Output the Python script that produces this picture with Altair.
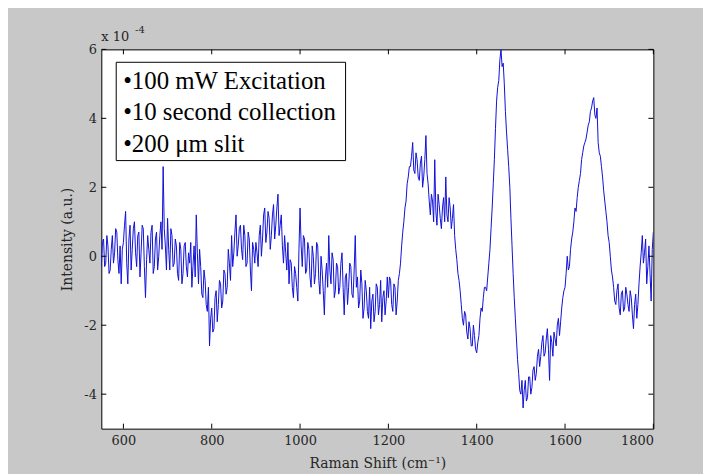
import altair as alt
import pandas as pd

# Raman shift (cm^-1) and intensity (units of 1e-4).
# Main samples every 5 cm^-1 starting at 550; mid samples every 5 cm^-1 starting at 552.5.
shift_main = [550 + 5 * i for i in range(251)]
shift_mid = [552.5 + 5 * i for i in range(250)]

intensity_rows = [
    [-0.3, 0.5, -0.2, 0.3, -0.4, 0.6, 0.1, 0.7, -0.5, -0.8],   # 550-595
    [0.4, 1.3, -0.8, 0.9, 0.2, 1.0, -0.3, 0.7, 0.1, 0.8],      # 600-645
    [-1.2, 0.6, -0.2, 0.9, -0.3, 0.7, 0.0, 1.0, 2.6, 0.3],     # 650-695
    [1.1, -0.4, 0.6, -0.2, 0.3, -0.7, 0.2, -0.5, 0.4, -0.6],   # 700-745
    [-0.2, -0.9, 0.3, 1.2, -0.8, -0.3, -1.2, -0.7, -1.6, -2.6],  # 750-795
    [-1.5, -2.1, -1.0, -1.4, -0.8, -1.3, -0.5, -0.9, -0.2, 0.6],  # 800-845
    [0.1, 1.2, 0.3, 0.9, -0.1, 0.6, -0.2, 0.5, -1.0, 0.2],     # 850-895
    [0.4, -0.3, 0.9, 0.5, 1.4, 0.7, 1.1, 0.6, 1.5, 0.9],       # 900-945
    [1.8, 0.9, 0.3, 0.6, -0.4, -0.8, -0.2, -1.2, -0.5, -1.3],  # 950-995
    [1.4, -0.3, 0.5, -0.4, 0.2, -0.9, 0.0, -0.5, 0.3, -1.1],   # 1000-1045
    [-0.4, -1.7, -0.2, 0.6, -0.8, -0.1, -1.0, -0.3, -0.9, 0.1],  # 1050-1095
    [-1.7, -0.5, -0.9, -0.3, -1.2, 0.6, -0.6, -1.3, -0.8, -1.5],  # 1100-1145
    [-1.0, -1.8, -2.1, -1.1, -1.6, -0.9, -1.4, -1.9, -1.0, -1.3],  # 1150-1195
    [-1.2, -0.7, -1.6, -0.9, -1.3, -0.5, 0.3, 1.0, 1.6, 2.3],  # 1200-1245
    [2.6, 3.3, 2.4, 2.8, 2.2, 2.9, 2.3, 3.5, 2.1, 1.2],        # 1250-1295
    [1.6, 2.8, 0.9, 1.5, 0.8, 1.7, 2.3, 1.0, 1.4, 1.1],        # 1300-1345
    [0.6, -0.1, -0.7, -1.4, -2.0, -1.7, -2.4, -2.1, -2.6, -2.3],  # 1350-1395
    [-2.8, -2.3, -1.5, -1.2, -0.9, -0.6, 0.2, 1.4, 2.8, 4.5],  # 1400-1445
    [5.1, 6.0, 5.6, 4.2, 3.1, 2.0, 0.3, -1.2, -2.4, -3.4],     # 1450-1495
    [-4.0, -4.4, -3.6, -4.1, -3.5, -3.8, -3.2, -3.4, -2.7, -2.9],  # 1500-1545
    [-2.3, -2.8, -2.1, -3.6, -2.5, -2.2, -2.6, -1.8, -1.9, -1.2],  # 1550-1595
    [-0.9, 0.0, -0.3, 0.5, 1.0, 1.3, 2.0, 2.4, 3.0, 3.3],      # 1600-1645
    [3.6, 3.9, 4.3, 4.6, 4.0, 3.3, 2.9, 2.3, 1.6, 1.0],        # 1650-1695
    [0.4, -0.4, -0.9, -1.4, -0.8, -1.7, -1.0, -1.5, -1.1, -1.6],  # 1700-1745
    [-1.2, -2.1, -1.1, -1.4, -0.3, 0.6, 0.1, -0.8, 0.3, -1.3],  # 1750-1795
    [0.7],                                                      # 1800
]
intensity_mid_rows = [
    [0.4, -0.3, 0.6, -0.5, 0.2, -0.2, 0.8, -0.1, 0.3, 0.2],      # 552.5-597.5
    [0.9, -0.2, 0.5, -0.4, 0.8, 0.1, 0.6, -0.6, 0.9, -0.3],      # 602.5-647.5
    [-0.1, 0.2, 0.7, -0.5, 0.5, -0.4, 0.6, 0.2, 0.8, -0.4],      # 652.5-697.5
    [0.2, 0.8, -0.3, 0.5, -0.5, 0.4, -0.8, 0.3, -0.3, 0.1],      # 702.5-747.5
    [0.4, -0.3, -0.6, 0.1, 0.2, -1.1, -0.4, -1.4, -0.9, -1.8],   # 752.5-797.5
    [-2.2, -1.2, -1.9, -0.7, -1.5, -0.4, -1.1, 0.2, -0.7, -0.3],  # 802.5-847.5
    [0.7, 0.0, 0.8, 0.2, 0.9, -0.3, 0.7, -0.4, 0.4, -0.2],       # 852.5-897.5
    [0.1, 0.6, 0.0, 1.2, 0.4, 1.3, 0.2, 1.2, 0.5, 1.4],          # 902.5-947.5
    [0.6, 1.2, -0.2, 0.1, 0.4, -0.1, -0.9, -0.3, -0.9, 0.2],     # 952.5-997.5
    [0.3, 0.6, -0.5, 0.4, -0.6, 0.3, -0.8, 0.4, -0.7, 0.0],      # 1002.5-1047.5
    [-1.0, -0.6, -0.9, -0.4, 0.1, -1.2, -0.2, -1.1, -0.2, -0.9],  # 1052.5-1097.5
    [-0.6, -1.4, -0.2, -1.1, -0.4, -0.9, -1.5, -0.4, -1.8, -0.7],  # 1102.5-1147.5
    [-1.6, -0.9, -1.3, -1.9, -0.8, -1.7, -0.7, -1.2, -1.7, -0.6],  # 1152.5-1197.5
    [-0.6, -1.4, -0.8, -1.7, -0.7, -0.2, 0.7, 1.4, 2.1, 2.6],    # 1202.5-1247.5
    [2.9, 2.5, 3.0, 2.3, 2.7, 2.0, 2.8, 2.4, 1.6, 1.8],          # 1252.5-1297.5
    [1.0, 1.3, 1.8, 1.1, 1.4, 1.0, 1.2, 1.7, 0.8, 1.5],          # 1302.5-1347.5
    [0.2, -0.5, -1.0, -1.8, -1.6, -2.2, -1.9, -2.6, -2.0, -2.7],  # 1352.5-1397.5
    [-2.5, -1.8, -1.6, -0.9, -1.0, -0.2, 0.8, 2.1, 3.7, 4.9],    # 1402.5-1447.5
    [5.7, 5.5, 5.0, 3.6, 2.6, 1.1, -0.5, -1.8, -3.0, -3.9],      # 1452.5-1497.5
    [-3.6, -3.9, -4.2, -3.5, -4.0, -3.3, -3.6, -2.9, -3.2, -2.5],  # 1502.5-1547.5
    [-2.9, -2.4, -2.7, -2.3, -2.9, -2.4, -2.0, -2.3, -1.5, -1.0],  # 1552.5-1597.5
    [-0.5, -0.4, 0.2, 0.7, 1.4, 1.7, 2.2, 2.8, 3.2, 3.4],        # 1602.5-1647.5
    [3.8, 4.2, 4.5, 4.1, 4.3, 3.0, 2.6, 1.9, 1.3, 0.6],          # 1652.5-1697.5
    [0.0, -0.6, -1.3, -1.0, -1.5, -1.1, -1.6, -0.9, -1.4, -1.0],  # 1702.5-1747.5
    [-1.7, -1.4, -1.8, -0.8, 0.1, -0.2, 0.5, -0.3, -0.5, 0.2],   # 1752.5-1797.5
]
intensity_main = [v for row in intensity_rows for v in row]
intensity_mid = [v for row in intensity_mid_rows for v in row]

x_ticks = [600, 800, 1000, 1200, 1400, 1600, 1800]
y_ticks = [-4, -2, 0, 2, 4, 6]
legend_lines = ["•100 mW Excitation", "•10 second collection", "•200 μm slit"]
multiplier = ["x 10", "-4"]

df = pd.DataFrame({
    "shift": shift_main + shift_mid,
    "intensity": intensity_main + intensity_mid,
}).sort_values("shift")

W, H = 556, 382
TICK = 5
AXFONT = "DejaVu Serif"
TXT = "#262626"
xs = alt.Scale(domain=[550, 1800], nice=False, zero=False)
ys = alt.Scale(domain=[-5, 6], nice=False, zero=False)

x_axis = alt.Axis(
    values=x_ticks, title="Raman Shift (cm⁻¹)", grid=False, domain=False,
    ticks=False, tickSize=0, labelPadding=6, labelFont=AXFONT, labelFontSize=13,
    labelColor=TXT, labelExpr="'' + datum.value", titleFont=AXFONT, titleFontSize=14,
    titleFontWeight="normal", titleColor=TXT, titleX=W / 2, titleY=35,
    titleBaseline="middle")
y_axis = alt.Axis(
    values=y_ticks, title="Intensity (a.u.)", grid=False, domain=False,
    ticks=False, tickSize=0, labelPadding=5, labelFont=AXFONT, labelFontSize=13,
    labelColor=TXT, labelExpr="'' + datum.value", titleFont=AXFONT, titleFontSize=14,
    titleFontWeight="normal", titleColor=TXT, titleX=-34, titleY=H / 2,
    titleAngle=270, titleBaseline="middle")

line = alt.Chart(df).mark_line(color="#1010d8", strokeWidth=1, clip=True).encode(
    x=alt.X("shift:Q", scale=xs, axis=x_axis),
    y=alt.Y("intensity:Q", scale=ys, axis=y_axis),
)

xt = pd.DataFrame({"shift": x_ticks})
yt = pd.DataFrame({"intensity": y_ticks})
bottom_ticks = alt.Chart(xt).mark_rule(color="black").encode(
    x=alt.X("shift:Q", scale=xs, axis=x_axis), y=alt.value(H), y2=alt.value(H - TICK))
top_ticks = alt.Chart(xt).mark_rule(color="black").encode(
    x=alt.X("shift:Q", scale=xs, axis=x_axis), y=alt.value(0), y2=alt.value(TICK))
left_ticks = alt.Chart(yt).mark_rule(color="black").encode(
    y=alt.Y("intensity:Q", scale=ys, axis=y_axis), x=alt.value(0), x2=alt.value(TICK))
right_ticks = alt.Chart(yt).mark_rule(color="black").encode(
    y=alt.Y("intensity:Q", scale=ys, axis=y_axis), x=alt.value(W), x2=alt.value(W - TICK))

box = alt.Chart(pd.DataFrame({"k": [0]})).mark_rect(
    fill="white", stroke="black", strokeWidth=1).encode(
    x=alt.value(15), x2=alt.value(246), y=alt.value(13), y2=alt.value(112))

baselines = [40, 71, 103]
texts = []
for txt, yb in zip(legend_lines, baselines):
    texts.append(alt.Chart(pd.DataFrame({"t": [txt]})).mark_text(
        align="left", baseline="alphabetic", font="Liberation Serif",
        fontSize=25, color="black").encode(
        text="t:N", x=alt.value(22), y=alt.value(yb)))

mult_main = alt.Chart(pd.DataFrame({"t": [multiplier[0]]})).mark_text(
    align="left", baseline="middle", font=AXFONT, fontSize=13, color=TXT).encode(
    text="t:N", x=alt.value(0), y=alt.value(-12))
mult_exp = alt.Chart(pd.DataFrame({"t": [multiplier[1]]})).mark_text(
    align="left", baseline="middle", font=AXFONT, fontSize=10, color=TXT).encode(
    text="t:N", x=alt.value(34), y=alt.value(-20))

chart = alt.layer(
    line, bottom_ticks, top_ticks, left_ticks, right_ticks, box, *texts, mult_main, mult_exp
).properties(
    width=W, height=H,
    autosize=alt.AutoSizeParams(type="none"),
    padding={"left": 94, "top": 40, "right": 50, "bottom": 44},
    background="#c8c8c8",
).configure_view(stroke="black", strokeWidth=1, fill="white")

chart.save("out.html", embed_options={"renderer": "svg", "actions": False})
